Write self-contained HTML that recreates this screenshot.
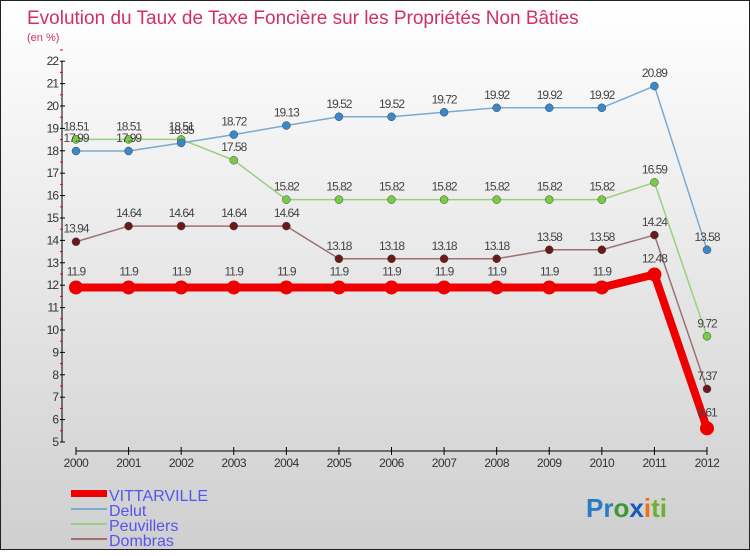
<!DOCTYPE html>
<html><head><meta charset="utf-8"><style>
body{margin:0;width:750px;height:550px;overflow:hidden;font-family:"Liberation Sans",sans-serif}
#c{position:absolute;left:0;top:0;width:748px;height:548px;border:1px solid #222;background:linear-gradient(#fff,#cfcfcf)}
</style></head><body>
<div id="c">
<svg id="s" width="750" height="550" xmlns="http://www.w3.org/2000/svg">
<text x="26" y="23" font-size="19" fill="#d0306a">Evolution du Taux de Taxe Foncière sur les Propriétés Non Bâties</text>
<text x="26" y="40" font-size="11" fill="#d0306a">(en %)</text>
<g id="axes"></g><g id="series"></g>
<g font-size="16" fill="#5555ee">
<rect x="70" y="489" width="36" height="7" fill="#ee0000"/>
<text x="108" y="500">VITTARVILLE</text>
<rect x="70" y="507" width="36" height="2" fill="#7aaad0"/>
<text x="108" y="515">Delut</text>
<rect x="70" y="522" width="36" height="2" fill="#99d080"/>
<text x="108" y="530">Peuvillers</text>
<rect x="70" y="537" width="36" height="2" fill="#a07070"/>
<text x="108" y="545">Dombras</text>
</g>
<text x="585" y="516" font-size="26" font-weight="bold"><tspan fill="#2a7ac8">Pr</tspan><tspan fill="#3a9a3a">o</tspan><tspan fill="#1a5ab8">x</tspan><tspan fill="#f07010">i</tspan><tspan fill="#70b030">ti</tspan></text>
</svg></div>
<script>
const years=[2000,2001,2002,2003,2004,2005,2006,2007,2008,2009,2010,2011,2012];
const yTicks=[5,6,7,8,9,10,11,12,13,14,15,16,17,18,19,20,21,22];
const vittarville=[11.9,11.9,11.9,11.9,11.9,11.9,11.9,11.9,11.9,11.9,11.9,12.48,5.61];
const delut=[17.99,17.99,18.35,18.72,19.13,19.52,19.52,19.72,19.92,19.92,19.92,20.89,13.58];
const peuvillers=[18.51,18.51,18.51,17.58,15.82,15.82,15.82,15.82,15.82,15.82,15.82,16.59,9.72];
const dombras=[13.94,14.64,14.64,14.64,14.64,13.18,13.18,13.18,13.18,13.58,13.58,14.24,7.37];
const NS="http://www.w3.org/2000/svg";
const X=i=>75+i*(631/(years.length-1));
const Y=v=>441-(v-5)*22.4;
function mk(t,a,p){const e=document.createElementNS(NS,t);for(const k in a)e.setAttribute(k,a[k]);p.appendChild(e);return e;}
const ax=document.getElementById('axes');
let l=mk('line',{x1:61,y1:Y(22),x2:61,y2:Y(5),stroke:'#000'},ax);


yTicks.forEach(v=>{
 mk('line',{x1:59,y1:Y(v),x2:64,y2:Y(v),stroke:'#000'},ax);
 mk('line',{x1:59,y1:Y(v+0.5),x2:62,y2:Y(v+0.5),stroke:'#e00'},ax);
 const t=mk('text',{x:57,y:Y(v)+4,'font-size':12,fill:'#333','text-anchor':'end','letter-spacing':'-1'},ax);
 t.textContent=v;
 
 
});
l=mk('line',{x1:X(0),y1:450,x2:X(12),y2:450,stroke:'#000'},ax);


years.forEach((y,i)=>{
 mk('line',{x1:X(i),y1:446,x2:X(i),y2:454,stroke:'#000'},ax);
 const t=mk('text',{x:X(i),y:466,'font-size':12,fill:'#333','text-anchor':'middle','letter-spacing':'-0.5'},ax);
 t.textContent=y;
 
 
});
const sg=document.getElementById('series');
function series(name,data,col,dot,w,r,lab){
 const g=mk('g',{},sg);
 
 
 const p=mk('polyline',{points:data.map((v,i)=>X(i)+','+Y(v)).join(' '),fill:'none',stroke:col,'stroke-width':w},g);
 
 
 data.forEach((v,i)=>{
  const c=mk('circle',{cx:X(i),cy:Y(v),r:r,fill:dot,stroke:'#444','stroke-width':r>5?0:0.5},g);
  
  
  const t=mk('text',{x:X(i),y:Y(v)+lab,'font-size':12,fill:'#444','text-anchor':'middle','letter-spacing':'-1'},g);
  t.textContent=String(v);
  
  
 });
}
series('dombras',dombras,'#a07070','#6b1a1a',1.5,4,-9);
series('peuvillers',peuvillers,'#99d080','#77cc44',1.5,4,-9);
series('delut',delut,'#7aaad0','#3a88cc',1.5,4,-9);
series('vittarville',vittarville,'#ee0000','#ee0000',8,7,-12);
</script>
</body></html>
